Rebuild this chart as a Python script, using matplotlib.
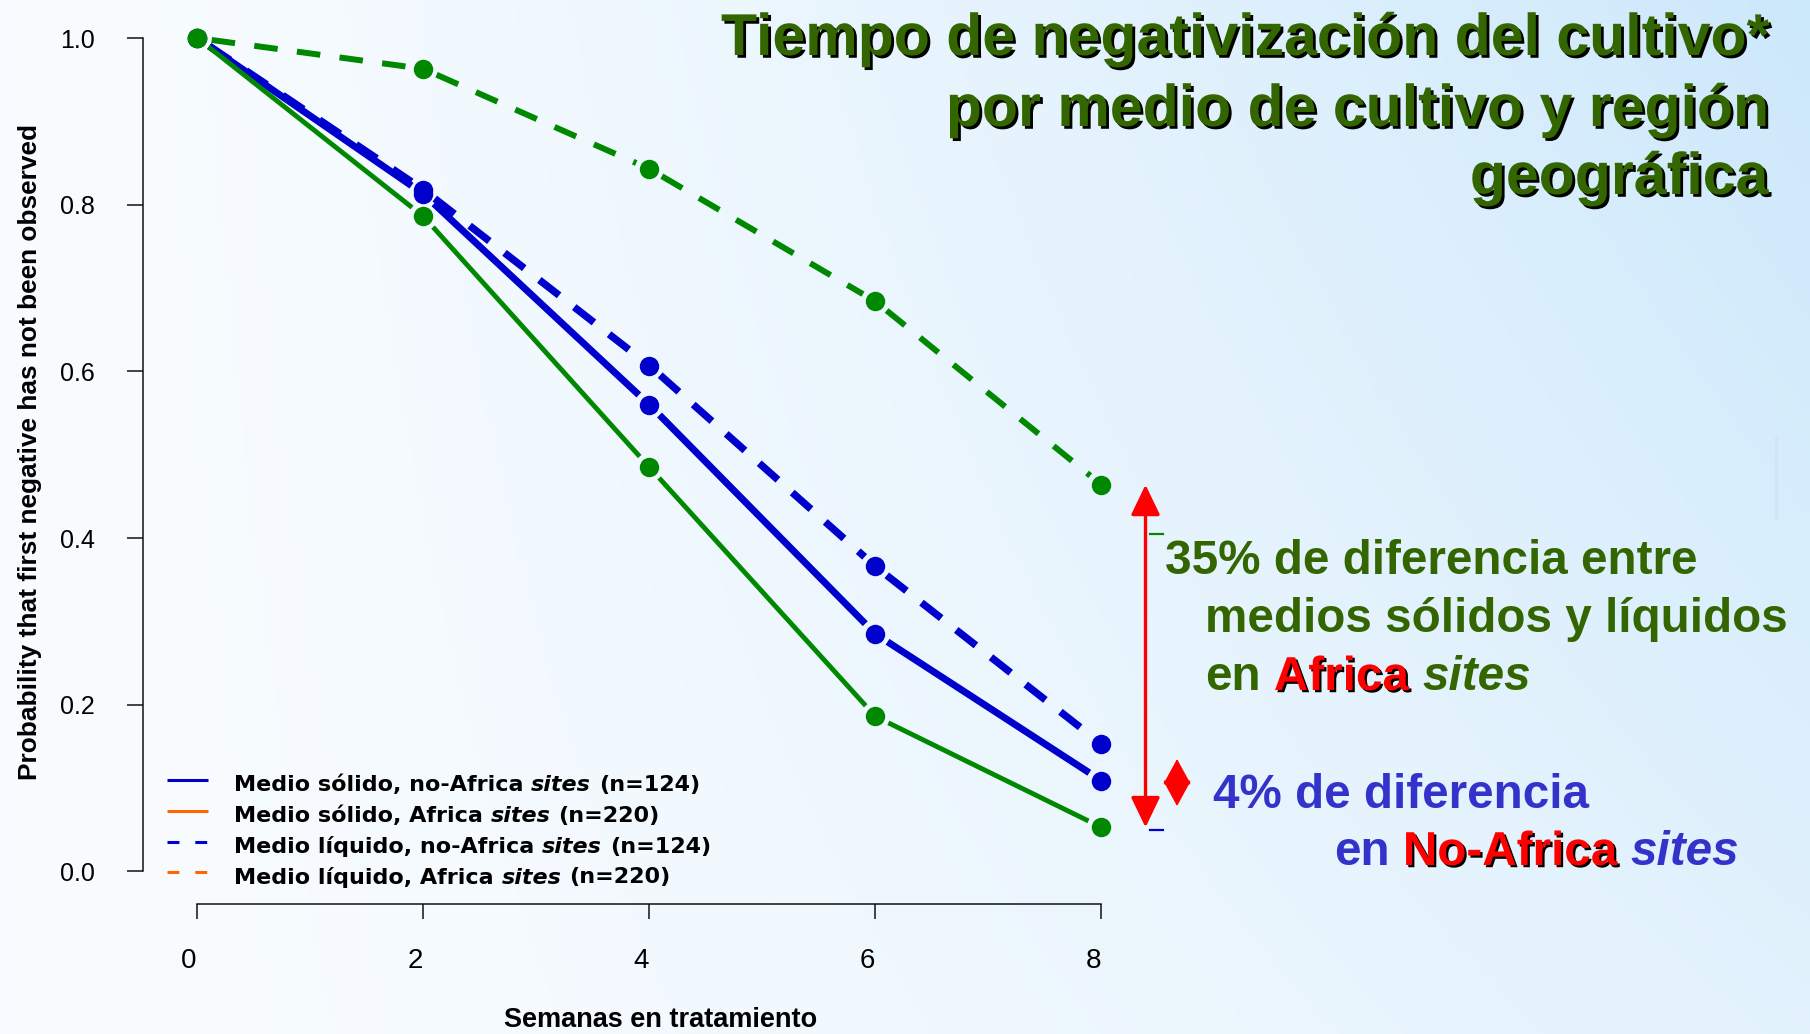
import numpy as np
import matplotlib
matplotlib.use("Agg")
import matplotlib.pyplot as plt
import matplotlib.patheffects as pe
from matplotlib.patches import FancyArrowPatch
from matplotlib.lines import Line2D
from matplotlib import font_manager

# ---------------- data ----------------
weeks = [0, 2, 4, 6, 8]
solid_non_africa = [1.0, 0.813, 0.560, 0.285, 0.109]
solid_africa = [1.0, 0.786, 0.485, 0.186, 0.053]
liquid_non_africa = [1.0, 0.818, 0.607, 0.366, 0.153]
liquid_africa = [1.0, 0.963, 0.843, 0.684, 0.464]

x_ticks = [0, 2, 4, 6, 8]
y_ticks = [0.0, 0.2, 0.4, 0.6, 0.8, 1.0]
y_tick_labels = ["0.0", "0.2", "0.4", "0.6", "0.8", "1.0"]

legend_labels = [
    ("Medio sólido, no-Africa", "sites", "(n=124)"),
    ("Medio sólido, Africa", "sites", "(n=220)"),
    ("Medio líquido, no-Africa", "sites", "(n=124)"),
    ("Medio líquido, Africa", "sites", "(n=220)"),
]
title_lines = ["Tiempo de negativización del cultivo*",
               "por medio de cultivo y región",
               "geográfica"]
x_label = "Semanas en tratamiento"
y_label = "Probability that first negative has not been observed"

# ---------------- fonts / colours ----------------
_avail = {f.name for f in font_manager.fontManager.ttflist}


def pick(*names):
    for n in names:
        if n in _avail:
            return n
    return "DejaVu Sans"


SANS = pick("Liberation Sans", "Arial")
NARROW = pick("Liberation Sans Narrow", "Liberation Sans")
WIDE = "DejaVu Sans"

BLUE = "#0000cc"
GREEN = "#008800"
ORANGE = "#ff6600"
TXT_GREEN = "#336600"
TXT_BLUE = "#3333cc"
RED = "#ff0000"

W, H, DPI = 1810, 1034, 100
fig = plt.figure(figsize=(W / DPI, H / DPI), dpi=DPI)


def fx(px):
    return px / W


def fy(py):
    return 1 - py / H


# ---------------- background gradient ----------------
bg = fig.add_axes([0, 0, 1, 1], zorder=-10)
gx = np.linspace(0, 1, 400)[None, :]
gy = np.linspace(0, 1, 240)[:, None]          # 0 = top row
t = np.clip(gx ** 1.4 * (0.5 + 0.5 * (1 - gy)), 0, 1)
c0 = np.array([0.975, 0.988, 1.0])
c1 = np.array([0.80, 0.91, 0.985])
img = c0[None, None, :] * (1 - t[..., None]) + c1[None, None, :] * t[..., None]
bg.imshow(img, extent=[0, 1, 0, 1], aspect="auto", origin="upper")
bg.set_axis_off()

# ---------------- main axes (R style, detached axes) ----------------
ax = fig.add_axes([fx(143), fy(904), 994.6 / W, 899.3 / H])
ax.patch.set_alpha(0)
ax.set_xlim(-0.481, 8.32)
ax.set_ylim(-0.039, 1.04)
for s in ("top", "right"):
    ax.spines[s].set_visible(False)
ax.spines["left"].set_bounds(0, 1)
ax.spines["bottom"].set_bounds(0, 8)
for s in ("left", "bottom"):
    ax.spines[s].set_linewidth(1.1)
    ax.spines[s].set_color("#111111")

ax.set_yticks(y_ticks)
ax.set_yticklabels(y_tick_labels, fontsize=18, family=SANS)
ax.tick_params(axis="y", length=11.5, width=1.1, pad=23, color="#111111")
ax.set_xticks(x_ticks)
ax.set_xticklabels([])
ax.tick_params(axis="x", length=10.8, width=1.1, color="#111111")
for v in x_ticks:
    ax.annotate(str(v), xy=(v, 0), xycoords=("data", "axes fraction"),
                xytext=(-6, -32), textcoords="offset points",
                ha="center", va="top", fontsize=20, family=NARROW)

fig.text(fx(661), fy(1027), x_label, ha="center", va="baseline",
         fontsize=19.5, family=NARROW, fontweight="bold")
fig.text(fx(30), fy(452), y_label, ha="center", va="center", rotation=90,
         fontsize=18.9, family=NARROW, fontweight="bold")


# ---------------- survival curves (type "b": points with gapped segments) ----
def draw_series(x, y, color, lw, dashes=None, ms=14, gap=10.4, z=3):
    ls = "-" if dashes is None else (0, dashes)
    for i in range(len(x) - 1):
        seg = FancyArrowPatch((x[i], y[i]), (x[i + 1], y[i + 1]),
                              arrowstyle="-", shrinkA=gap, shrinkB=gap,
                              color=color, lw=lw, linestyle=ls,
                              capstyle="butt", clip_on=False, zorder=z)
        ax.add_patch(seg)
    ax.plot(x, y, "o", ms=ms, color=color, mec="none", clip_on=False,
            zorder=z + 0.5)


draw_series(weeks, liquid_non_africa, BLUE, 5.3, dashes=(3.4, 2.6), z=3)
draw_series(weeks, solid_non_africa, BLUE, 5.0, z=3.2)
draw_series(weeks, solid_africa, GREEN, 3.5, z=3.4)
draw_series(weeks, liquid_africa, GREEN, 4.3, dashes=(3.95, 3.25), z=3.6)

# ---------------- legend (drawn row by row) ----------------
renderer = fig.canvas.get_renderer()


def text_width(s, **kw):
    tt = fig.text(0, 0, s, **kw)
    w = tt.get_window_extent(renderer).width
    tt.remove()
    return w


def rich_line(x_px, y_px, parts, base_kw):
    """Draw a sequence of text runs on one baseline, separated by spaces."""
    x = x_px
    sp = text_width("n n", **base_kw) - text_width("nn", **base_kw)
    for i, (s, extra, effects) in enumerate(parts):
        kw = dict(base_kw)
        kw.update(extra)
        tt = fig.text(fx(x), fy(y_px), s, ha="left", va="baseline", **kw)
        if effects:
            tt.set_path_effects(effects)
        x += tt.get_window_extent(renderer).width
        if i < len(parts) - 1:
            x += sp


legend_styles = [(BLUE, None), (ORANGE, None),
                 (BLUE, (3.9, 5.2)), (ORANGE, (3.9, 5.2))]
row_centers = [779.5, 810.5, 841.5, 872.0]
leg_kw = dict(fontsize=16, family=WIDE, fontweight="bold", color="black")
for (col, dsh), yc, (a, b, c) in zip(legend_styles, row_centers, legend_labels):
    ln = Line2D([fx(167), fx(208)], [fy(yc), fy(yc)], transform=fig.transFigure,
                color=col, lw=2.2, solid_capstyle="butt", dash_capstyle="butt")
    if dsh is not None:
        ln.set_dashes(dsh)
    fig.add_artist(ln)
    rich_line(234, yc + 11.5,
              [(a, {}, None), (b, {"style": "italic"}, None), (c, {}, None)],
              leg_kw)

# ---------------- title ----------------
title_fx = [pe.SimplePatchShadow(offset=(2, -2), shadow_rgbFace="black", alpha=1.0),
            pe.Normal()]
for line, base in zip(title_lines, [55, 126, 194]):
    fig.text(fx(1768), fy(base), line, ha="right", va="baseline",
             fontsize=42.5, family=SANS, fontweight="bold", color=TXT_GREEN,
             path_effects=title_fx)

# ---------------- difference annotations ----------------
x_arrow = 8.39
big = FancyArrowPatch((x_arrow, liquid_africa[-1]), (x_arrow, solid_africa[-1]),
                      arrowstyle="<|-|>,head_length=18.7,head_width=9",
                      mutation_scale=1, color=RED, lw=2.4, shrinkA=0, shrinkB=0,
                      clip_on=False, zorder=5)
ax.add_patch(big)
small = FancyArrowPatch((8.669, 0.135), (8.669, 0.0785),
                        arrowstyle="<|-|>,head_length=16.5,head_width=9",
                        mutation_scale=1, color=RED, lw=1.2, shrinkA=0, shrinkB=0,
                        clip_on=False, zorder=5)
ax.add_patch(small)

# small reference dashes next to the arrow
fig.add_artist(Line2D([fx(1150), fx(1163)], [fy(534), fy(534)],
                      transform=fig.transFigure, color=GREEN, lw=1.6))
fig.add_artist(Line2D([fx(1150), fx(1163)], [fy(830), fy(830)],
                      transform=fig.transFigure, color=BLUE, lw=1.6))
fig.add_artist(Line2D([fx(1776), fx(1776)], [fy(438), fy(518)],
                      transform=fig.transFigure, color="#cce6fa", lw=2.2))

shadow = [pe.SimplePatchShadow(offset=(1.6, -1.6), shadow_rgbFace="black", alpha=1.0),
          pe.Normal()]
ann_kw = dict(fontsize=34.3, family=SANS, fontweight="bold", color=TXT_GREEN)
fig.text(fx(1165), fy(574), "35% de diferencia entre", ha="left",
         va="baseline", **ann_kw)
fig.text(fx(1205), fy(632), "medios sólidos y líquidos", ha="left",
         va="baseline", **ann_kw)
rich_line(1205, 690, [("en", {}, None),
                      ("Africa", {"color": RED}, shadow),
                      ("sites", {"style": "italic"}, None)], ann_kw)

ann_kw_b = dict(ann_kw, color=TXT_BLUE)
fig.text(fx(1213), fy(808), "4% de diferencia", ha="left", va="baseline",
         **ann_kw_b)
rich_line(1334, 865, [("en", {}, None),
                      ("No-Africa", {"color": RED}, shadow),
                      ("sites", {"style": "italic"}, None)], ann_kw_b)

fig.savefig("out.png", dpi=DPI)
